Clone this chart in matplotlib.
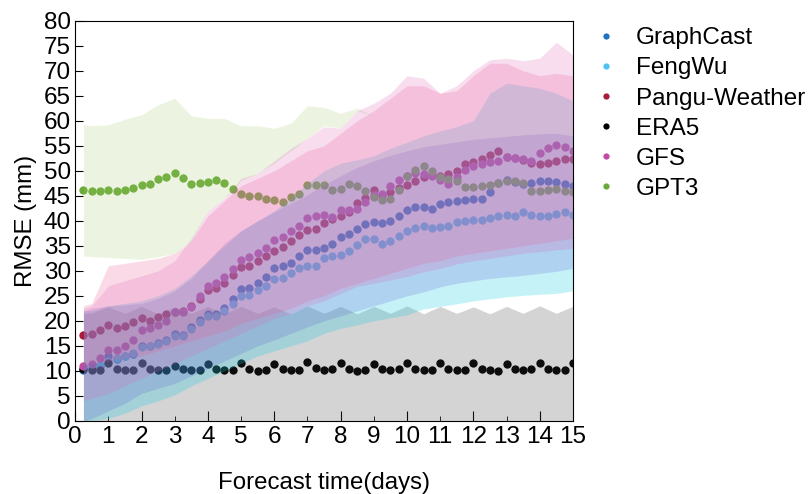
import numpy as np
import matplotlib.pyplot as plt
from matplotlib.lines import Line2D
from matplotlib.ticker import MultipleLocator

plt.rcParams['font.family'] = ['Liberation Sans', 'DejaVu Sans']

# lead times of the dots (6-hourly, days)
lead = np.arange(1, 61) * 0.25

graphcast = [10.2, 10.5, 11.0, 12.9, 12.3, 12.9, 13.4, 15.0, 15.0, 15.5, 16.2, 17.4,
             17.2, 18.7, 20.1, 21.4, 21.4, 22.5, 24.3, 26.3, 26.5, 27.5, 28.7, 30.5,
             30.9, 31.5, 33.0, 34.2, 34.1, 34.5, 35.4, 36.7, 37.4, 38.3, 39.3, 39.7,
             39.5, 39.9, 41.0, 42.2, 42.7, 42.7, 42.4, 43.4, 43.7, 44.0, 44.2, 44.3,
             44.3, 45.7, 47.5, 48.2, 47.8, 47.3, 47.5, 48.0, 47.9, 47.7, 47.4, 47.0]
fengwu = [10.4, 10.6, 11.2, 12.0, 12.5, 13.0, 13.6, 14.8, 14.9, 15.4, 16.0, 17.0,
          17.0, 18.3, 19.7, 21.0, 21.0, 22.0, 23.4, 24.9, 25.2, 26.1, 27.0, 28.3,
          28.5, 29.5, 30.5, 31.0, 31.0, 32.5, 32.9, 33.2, 34.0, 35.2, 36.3, 36.3,
          35.4, 35.9, 37.0, 38.0, 38.5, 38.9, 38.5, 38.7, 38.9, 39.7, 39.9, 40.2,
          40.2, 40.5, 40.9, 41.2, 41.0, 41.7, 41.1, 40.9, 41.0, 41.4, 41.7, 41.2]
pangu = [17.2, 17.4, 18.1, 19.2, 18.5, 18.9, 19.7, 20.5, 19.9, 20.7, 21.4, 21.7,
         22.0, 22.9, 24.3, 26.1, 26.5, 27.5, 29.2, 30.7, 30.9, 32.0, 32.9, 33.9,
         34.7, 35.9, 37.2, 38.1, 38.3, 39.6, 40.3, 41.0, 41.8, 43.5, 44.5, 46.1,
         45.2, 45.7, 46.5, 47.2, 47.9, 48.7, 49.2, 48.9, 49.3, 49.9, 51.4, 51.7,
         52.3, 53.2, 53.9, 52.8, 52.5, 52.2, 51.5, 51.3, 51.5, 52.0, 52.3, 52.3]
era5 = [10.4, 10.1, 10.2, 11.5, 10.4, 10.1, 10.2, 11.5, 10.4, 10.2, 10.1, 11.0,
        10.3, 10.2, 10.2, 11.4, 10.4, 10.1, 10.2, 11.5, 10.4, 10.0, 10.1, 11.4,
        10.4, 10.1, 10.2, 11.7, 10.5, 10.2, 10.4, 11.5, 10.4, 10.0, 10.1, 11.4,
        10.3, 10.1, 10.3, 11.5, 10.4, 10.2, 10.1, 11.6, 10.3, 10.2, 10.2, 11.5,
        10.4, 10.1, 10.0, 11.3, 10.3, 10.1, 10.3, 11.5, 10.3, 10.2, 10.2, 11.6]
gfs = [10.9, 11.4, 12.5, 14.2, 14.2, 14.9, 16.1, 18.1, 18.5, 19.2, 19.9, 21.7,
       21.7, 22.7, 24.9, 26.9, 27.5, 28.7, 30.4, 32.2, 32.7, 33.5, 34.5, 36.2,
       36.7, 37.9, 39.0, 40.5, 40.9, 41.1, 40.7, 42.1, 42.1, 42.4, 43.7, 45.2,
       45.4, 46.9, 48.1, 48.9, 49.5, 49.3, 49.0, 48.1, 47.4, 48.7, 50.2, 50.9,
       51.3, 51.7, 51.9, 52.7, 52.5, 52.3, 52.0, 53.5, 54.5, 55.2, 54.7, 54.0]
gpt3 = [46.1, 45.9, 45.9, 46.2, 45.9, 46.2, 46.5, 47.1, 47.4, 48.3, 48.7, 49.5,
        48.5, 47.3, 47.5, 47.7, 48.2, 47.5, 46.3, 45.4, 44.9, 44.9, 44.4, 44.2,
        43.7, 44.7, 45.4, 47.2, 47.2, 47.1, 46.2, 46.4, 47.3, 46.9, 46.0, 44.8,
        44.1, 44.3, 46.1, 48.9, 50.2, 50.9, 49.9, 48.8, 48.3, 47.9, 46.7, 46.7,
        46.9, 47.1, 47.5, 47.9, 47.9, 47.5, 46.0, 45.9, 46.1, 46.3, 45.9, 45.7]

# spread envelopes, read at 0.25 d and then every half day
band_x = [0.25, 0.5, 1.0, 1.5, 2.0, 2.5, 3.0, 3.5, 4.0, 4.5, 5.0, 5.5, 6.0, 6.5, 7.0, 7.5,
          8.0, 8.5, 9.0, 9.5, 10.0, 10.5, 11.0, 11.5, 12.0, 12.5, 13.0, 13.5, 14.0, 14.5, 15.0]
era5_lo = [0.0] * 31
era5_hi = [21.5, 21.6, 22.8, 21.5, 22.9, 21.4, 22.8, 21.5, 22.9, 21.4, 22.9, 21.5, 22.8, 21.4,
           23.0, 21.5, 22.9, 21.4, 22.9, 21.5, 23.0, 21.4, 22.9, 21.5, 22.8, 21.4, 22.9, 21.5,
           23.0, 21.5, 22.9]
fengwu_lo = [0.0, 0.0, 0.5, 1.5, 3.0, 4.0, 5.2, 7.0, 8.5, 10.0, 11.5, 13.0, 14.0, 15.0, 16.0,
             17.5, 18.5, 19.2, 20.0, 20.6, 21.2, 22.4, 22.9, 23.4, 24.0, 24.4, 24.8, 25.1,
             25.3, 25.5, 26.0]
fengwu_hi = [22.0, 22.0, 23.0, 23.5, 24.0, 25.0, 26.5, 29.0, 32.0, 35.0, 38.0, 40.0, 42.0,
             44.5, 47.5, 50.0, 51.5, 52.2, 53.0, 54.5, 55.7, 57.0, 58.0, 58.8, 60.0, 65.5,
             67.5, 67.0, 66.5, 65.5, 64.0]
graphcast_lo = [0.0, 0.5, 2.0, 3.5, 5.5, 6.5, 7.5, 9.0, 10.5, 12.0, 13.5, 15.0, 16.2, 17.5,
                18.8, 20.0, 21.0, 22.0, 23.0, 24.0, 25.0, 25.8, 26.8, 27.5, 28.0, 28.5, 28.8,
                29.1, 29.5, 29.9, 30.5]
graphcast_hi = [22.0, 22.5, 23.0, 23.2, 23.5, 24.5, 26.0, 28.5, 32.0, 35.5, 38.0, 40.0, 41.8,
                43.5, 45.2, 47.2, 49.0, 50.7, 52.0, 53.1, 54.0, 54.8, 55.3, 55.8, 56.3, 56.6,
                56.9, 57.2, 57.4, 57.5, 57.0]
pangu_lo = [11.0, 11.5, 12.0, 12.5, 13.0, 14.0, 15.0, 16.0, 17.0, 18.0, 19.5, 20.5, 21.5,
            22.5, 24.0, 25.0, 26.5, 27.5, 28.5, 29.5, 30.5, 31.5, 32.0, 33.0, 33.5, 34.0,
            34.5, 35.0, 35.5, 36.0, 36.5]
pangu_hi = [23.0, 23.5, 31.0, 31.5, 32.0, 32.5, 33.5, 36.0, 41.0, 44.0, 47.0, 48.5, 50.0,
            52.0, 54.0, 55.0, 57.5, 60.0, 62.0, 64.5, 67.0, 67.0, 65.5, 66.0, 69.0, 71.5,
            71.5, 70.0, 69.0, 69.5, 69.0]
gfs_lo = [4.0, 4.5, 5.5, 7.0, 8.5, 10.0, 11.5, 13.0, 14.5, 16.0, 17.5, 19.0, 20.5, 21.5,
          23.0, 24.0, 25.5, 26.9, 27.5, 28.2, 28.9, 29.8, 30.5, 31.4, 32.0, 32.5, 33.0,
          33.5, 33.8, 34.2, 34.5]
gfs_hi = [22.5, 23.0, 27.0, 28.0, 29.0, 30.0, 32.0, 36.5, 42.0, 44.5, 48.5, 49.5, 52.0,
          54.5, 56.5, 58.8, 58.5, 62.0, 63.5, 65.5, 69.0, 68.5, 65.5, 67.0, 70.0, 72.2,
          72.5, 72.0, 72.5, 75.7, 73.2]
# GPT3 spread is only visible above the other envelopes, up to ~9 days
gpt3_band_x = band_x[:19]
gpt3_lo = [33.0, 32.8, 32.7, 32.5, 32.3, 32.8, 33.5, 36.0, 42.0, 44.5, 48.0, 49.5, 51.5,
           54.0, 56.5, 59.0, 58.5, 62.0, 61.0]
gpt3_hi = [59.2, 59.0, 59.2, 60.3, 61.2, 63.2, 64.5, 61.0, 60.5, 60.5, 59.0, 59.0, 58.5,
           59.5, 63.0, 62.7, 61.5, 62.5, 61.0]

names = ['GraphCast', 'FengWu', 'Pangu-Weather', 'ERA5', 'GFS', 'GPT3']
dot_colors = ['#1f72c0', '#4cc3f2', '#a81c3c', '#000000', '#c24aa2', '#6aaa3a']
series = [graphcast, fengwu, pangu, era5, gfs, gpt3]

fig = plt.figure(figsize=(8.08, 4.94), dpi=100)
ax = fig.add_axes([0.093, 0.148, 0.616, 0.81])

for vals, c in zip(series, dot_colors):
    ax.scatter(lead, vals, s=36, color=c, linewidths=0, zorder=1)

# shaded spreads sit on top of the dots, as in the original
ax.fill_between(band_x, era5_lo, era5_hi, color='#3c3c3c', alpha=0.22, lw=0, zorder=2)
ax.fill_between(gpt3_band_x, gpt3_lo, gpt3_hi, color='#a4cc6c', alpha=0.2, lw=0, zorder=2)
ax.fill_between(band_x, fengwu_lo, fengwu_hi, color='#18cce0', alpha=0.25, lw=0, zorder=2)
ax.fill_between(band_x, graphcast_lo, graphcast_hi, color='#5a54d4', alpha=0.2, lw=0, zorder=2)
ax.fill_between(band_x, pangu_lo, pangu_hi, color='#ec5a90', alpha=0.22, lw=0, zorder=2)
ax.fill_between(band_x, gfs_lo, gfs_hi, color='#e066b8', alpha=0.22, lw=0, zorder=2)

ax.set_xlim(0, 15)
ax.set_ylim(0, 80)
ax.xaxis.set_major_locator(MultipleLocator(2))
ax.xaxis.set_minor_locator(MultipleLocator(1))
ax.yaxis.set_major_locator(MultipleLocator(5))
ax.xaxis.set_minor_formatter(plt.FuncFormatter(lambda v, p: '%d' % v))
ax.tick_params(axis='both', which='both', direction='in', labelsize=17.5)
ax.tick_params(axis='x', which='major', length=7, pad=4)
ax.tick_params(axis='x', which='minor', length=3.5, pad=4)
ax.tick_params(axis='y', length=6, pad=3)
ax.set_xlabel('Forecast time(days)', fontsize=17.3, labelpad=17)
ax.set_ylabel('RMSE (mm)', fontsize=17.3, labelpad=5)

handles = [Line2D([], [], ls='none', marker='o', ms=4.5, color=c, mec='none') for c in dot_colors]
ax.legend(handles, names, loc='upper left', bbox_to_anchor=(0.995, 1.038), frameon=False,
          fontsize=17.5, handletextpad=0.7, labelspacing=0.33, handlelength=1.1)

fig.savefig('out.png', dpi=100)
